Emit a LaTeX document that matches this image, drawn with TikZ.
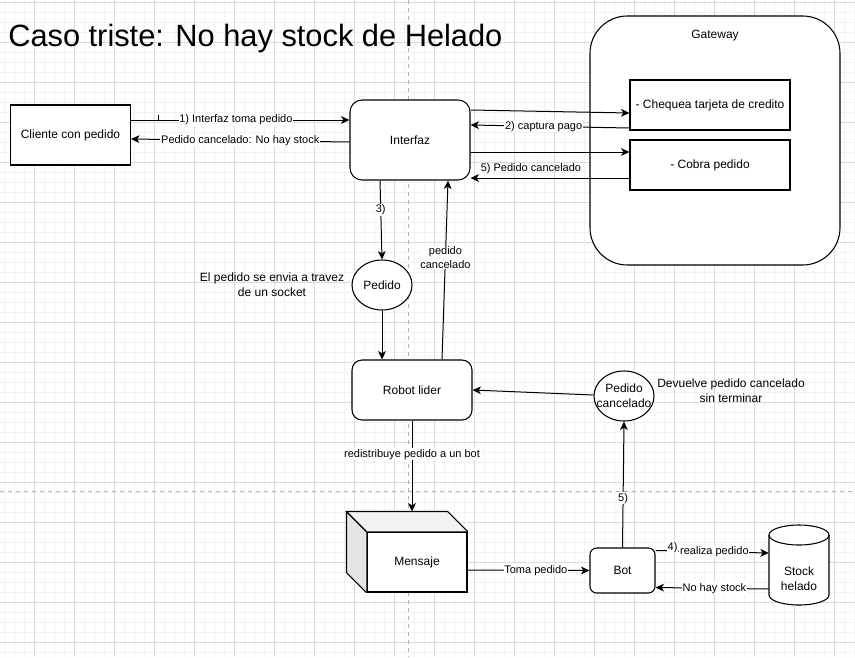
\documentclass[tikz,border=0pt]{standalone}
\usepackage{fontspec}
\setmainfont{Liberation Sans}
\usetikzlibrary{arrows.meta,calc,shapes.geometric}
\newcommand\dnodefont{\fontsize{9}{11}\selectfont}
\newcommand\dlblfont{\fontsize{8.25}{10.5}\selectfont}
\begin{document}
\begin{tikzpicture}[x=0.75pt,y=-0.75pt,
  gridminor/.style={draw=black!5, line width=0.5pt},
  gridmajor/.style={draw=black!14, line width=0.5pt},
  pagebreak/.style={draw=black!30, line width=0.6pt, dash pattern=on 3pt off 3pt},
  box/.style={draw, line width=0.8pt, fill=white, font=\dnodefont, align=center, inner sep=0pt},
  rbox/.style={box, rounded corners=9pt},
  ebox/.style={box, ellipse, minimum width=45pt, minimum height=37.5pt},
  lbl/.style={font=\dlblfont, fill=white, inner sep=0.6pt, align=center},
  txt/.style={font=\dnodefont, align=center, inner sep=0pt},
  arr/.style={-{Stealth[length=6.3pt,width=5.8pt,inset=1.7pt]}, line width=0.75pt},
  face/.style={draw, line width=0.8pt}
]
\useasboundingbox (0,0) rectangle (855,657);
\fill[white] (0,0) rectangle (855,657);
% grid
\foreach \x in {4,14,...,854} \draw[gridminor] (\x,0) -- (\x,657);
\foreach \y in {2,12,...,652} \draw[gridminor] (0,\y) -- (855,\y);
\foreach \x in {34,74,...,834} \draw[gridmajor] (\x,0) -- (\x,657);
\foreach \y in {2,42,...,642} \draw[gridmajor] (0,\y) -- (855,\y);
% page breaks
\draw[pagebreak] (408,0) -- (408,657);
\draw[pagebreak] (0,491) -- (855,491);

% title
\node[anchor=base west, inner sep=0pt, font=\fontsize{23.1}{27}\selectfont] (title) at (8,46) {Caso triste: No hay stock de Helado};

% nodes
\node[box, minimum width=90pt, minimum height=45pt] (cliente) at (70.5,135) {Cliente con pedido};
\node[rbox, minimum width=90pt, minimum height=60pt] (interfaz) at (410,140) {Interfaz};
\node[box, rounded corners=28pt, minimum width=187.5pt, minimum height=186.75pt] (gateway) at (715,140.5) {};
\node[txt] (gwlabel) at ($(gateway.north)+(0,20.5)$) {Gateway};
\node[box, minimum width=120pt, minimum height=37.5pt] (chequea) at (710,105) {- Chequea tarjeta de credito};
\node[box, minimum width=120pt, minimum height=37.5pt] (cobra) at (710,165) {- Cobra pedido};
\node[ebox] (pedido) at (382,285) {Pedido};
\node[txt] (socket) at (272,285) {El pedido se envia a travez\\de un socket};
\node[rbox, rounded corners=7.5pt, minimum width=90pt, minimum height=45pt] (robot) at (412,390) {Robot lider};
\node[ebox] (pcancel) at (624,396) {};
\node[txt] (pctext) at (pcancel) {Pedido\\cancelado};
\node[txt] (devuelve) at (731,390.5) {Devuelve pedido cancelado\\sin terminar};

% Mensaje cube
\node[box, minimum width=75pt, minimum height=45pt] (mensaje) at (417,562) {Mensaje};
\coordinate (mtl) at ($(mensaje.north west)+(-20,-20)$);
\coordinate (mtr) at ($(mensaje.north east)+(-20,-20)$);
\coordinate (mbl) at ($(mensaje.south west)+(-20,-20)$);
\fill[black!5] (mtl) -- (mtr) -- (mensaje.north east) -- (mensaje.north west) -- cycle;
\fill[black!10] (mtl) -- (mensaje.north west) -- (mensaje.south west) -- (mbl) -- cycle;
\draw[face, line join=miter] (mensaje.north west) -- (mtl) -- (mtr) -- (mensaje.north east);
\draw[face] (mtl) -- (mbl) -- (mensaje.south west);
\draw[face] (mtl) -- (mensaje.north west);

\node[rbox, rounded corners=5pt, minimum width=48.75pt, minimum height=33.75pt] (bot) at (622.5,570.5) {Bot};

% Stock cylinder
\node[inner sep=0pt, minimum width=45pt, minimum height=60pt] (stock) at (799,565) {};
\draw[face, fill=white] (769,535) -- (769,595) arc[start angle=180, end angle=360, x radius=22.5pt, y radius=7.5pt] -- (829,535) arc[start angle=0, end angle=180, x radius=22.5pt, y radius=7.5pt] -- cycle;
\draw[face] (769,535) arc[start angle=180, end angle=360, x radius=22.5pt, y radius=7.5pt];
\node[txt] (stocktext) at (799,578.5) {Stock\\helado};

% connectors
\draw[line width=0.5pt] (158,115) -- (158,120);
\draw[arr] ($(cliente.east)+(0,-15)$) -- node[lbl, pos=0.48]{1) Interfaz toma pedido} ($(interfaz.west)+(0,-20)$);
\draw[arr] ($(interfaz.west)+(0,2)$) -- node[lbl, pos=0.5]{Pedido cancelado: No hay stock} ($(cliente.east)+(0,4)$);
\draw[arr] ($(interfaz.east)+(0,-30)$) -- ($(chequea.west)+(0,8)$);
\draw[arr] ($(chequea.west)+(0,23)$) -- node[lbl, pos=0.54]{2) captura pago} ($(interfaz.east)+(0,-15)$);
\draw[arr] ($(interfaz.east)+(0,12)$) -- ($(cobra.west)+(0,-13)$);
\draw[arr] ($(cobra.west)+(0,13)$) -- node[lbl, fill=none, pos=0.62, yshift=6.75pt]{5) Pedido cancelado} ($(interfaz.east)+(0,38)$);
\draw[arr] ($(interfaz.south)+(-30,0)$) -- node[lbl, pos=0.375]{3)} (pedido.north);
\draw[arr] (pedido.south) -- ($(robot.north)+(-30,0)$);
\draw[arr] ($(robot.north)+(30,0)$) -- node[lbl, pos=0.57]{pedido\\cancelado} ($(interfaz.south)+(38,0)$);
\draw[arr] ($(pcancel.west)+(0,-1)$) -- (robot.east);
\draw[arr] (robot.south) -- node[lbl, pos=0.37]{redistribuye pedido a un bot} (mtl -| robot.south);
\draw[arr] ($(mensaje.east)+(0,8)$) -- node[lbl, pos=0.56]{Toma pedido} (bot.west);
\draw[arr] (bot.north) -- node[lbl, pos=0.39]{5)} (pcancel.south);
\draw[arr] ($(bot.east)+(0,-20)$) -- node[lbl, pos=0.15, yshift=2.25pt]{4)} node[lbl, pos=0.52]{realiza pedido} ($(stock.west)+(0,-12)$);
\draw[arr] ($(stock.west)+(0,24)$) -- node[lbl, pos=0.48]{No hay stock} ($(bot.east)+(0,17)$);
\end{tikzpicture}
\end{document}
